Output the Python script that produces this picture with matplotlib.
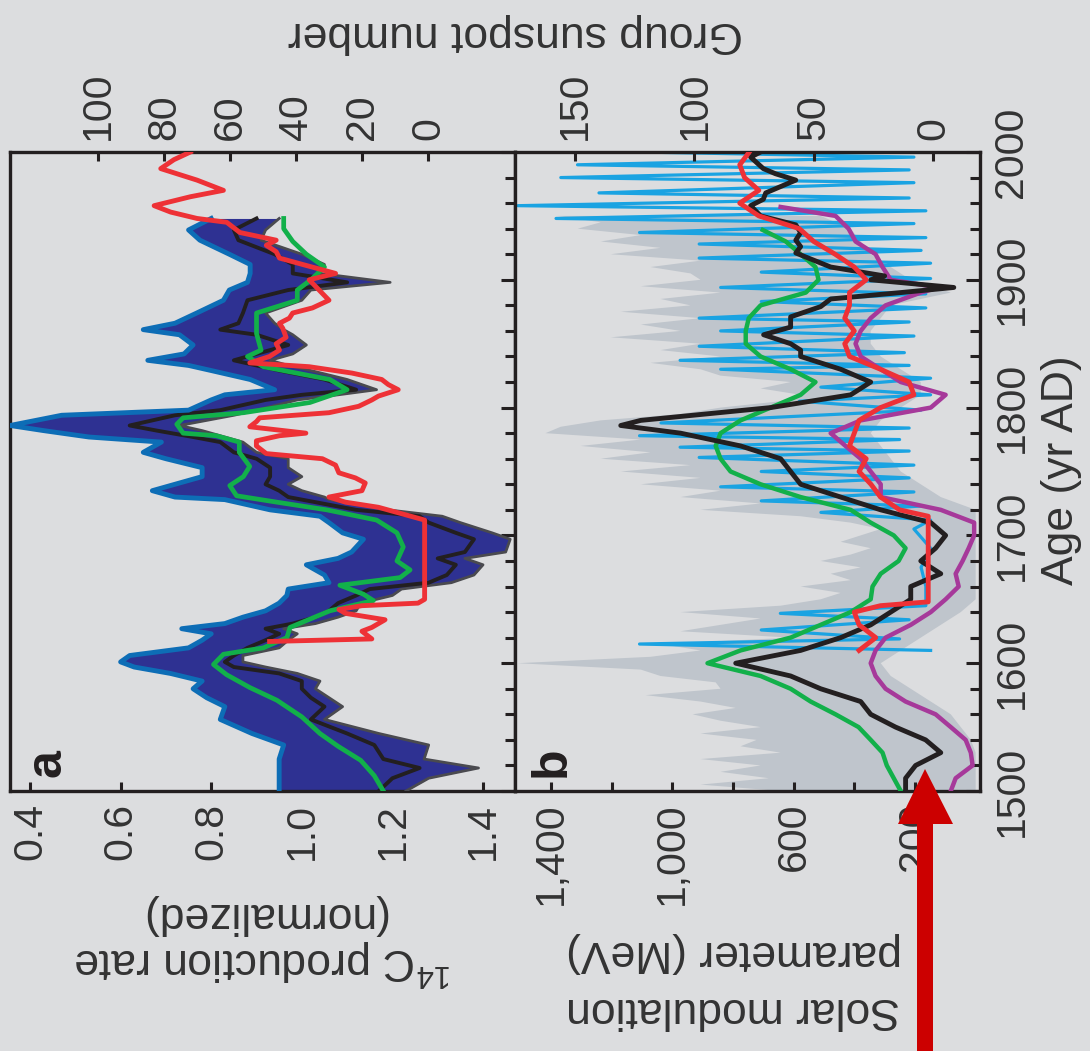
import numpy as np
import matplotlib
matplotlib.use("Agg")
import matplotlib.pyplot as plt
from matplotlib.ticker import MultipleLocator
from matplotlib.patches import Polygon

plt.rcParams['font.family'] = ['Liberation Sans', 'DejaVu Sans']
plt.rcParams['mathtext.fontset'] = 'custom'
plt.rcParams['mathtext.rm'] = 'Liberation Sans'

# ---------------- data ----------------
# panel a: 14C production rate ensemble (normalized): left edge, core, right edge
yrs_a = [1500, 1510, 1518, 1525, 1536, 1545, 1556, 1566, 1573, 1580,
         1586, 1592, 1597, 1601, 1606, 1612, 1618, 1623, 1627, 1631,
         1636, 1641, 1647, 1653, 1658, 1663, 1669, 1677, 1682, 1687,
         1697, 1702, 1710, 1715, 1720, 1728, 1730, 1735, 1740, 1746,
         1753, 1760, 1765, 1773, 1777, 1782, 1786, 1794, 1798, 1806,
         1810, 1814, 1822, 1829, 1833, 1837, 1842, 1849, 1857, 1861,
         1866, 1874, 1884, 1892, 1898, 1905, 1912, 1920, 1931, 1939, 1948]
c14_lo = [0.95, 0.95, 0.95, 0.95, 0.96, 0.89, 0.82, 0.83, 0.79, 0.76,
          0.78, 0.71, 0.63, 0.60, 0.62, 0.75, 0.78, 0.80, 0.735, 0.83,
          0.87, 0.92, 0.95, 0.967, 0.97, 1.06, 1.05, 1.01, 1.08, 1.11,
          1.136, 1.09, 1.06, 1.04, 0.93, 0.83, 0.72, 0.67, 0.72, 0.78,
          0.78, 0.70, 0.65, 0.69, 0.53, 0.43, 0.356, 0.47, 0.75, 0.80,
          0.83, 0.94, 0.886, 0.80, 0.75, 0.66, 0.74, 0.76, 0.73, 0.65,
          0.72, 0.768, 0.827, 0.84, 0.88, 0.886, 0.886, 0.84, 0.775, 0.75, 0.80]
c14_mid = [1.17, 1.20, 1.26, 1.18, 1.16, 1.10, 1.02, 1.05, 1.02, 1.00,
           1.00, 0.95, 0.85, 0.83, 0.85, 0.88, 0.92, 0.95, 0.92, 0.98,
           1.03, 1.06, 1.08, 1.12, 1.15, 1.28, 1.32, 1.34, 1.30, 1.36,
           1.38, 1.34, 1.28, 1.26, 1.12, 1.00, 0.97, 0.95, 0.92, 0.93,
           0.93, 0.90, 0.85, 0.82, 0.76, 0.68, 0.62, 0.72, 0.82, 0.92,
           1.00, 1.12, 1.05, 0.95, 0.90, 0.85, 0.90, 0.97, 0.90, 0.82,
           0.86, 0.87, 0.88, 0.97, 1.10, 0.98, 0.98, 0.94, 0.86, 0.85, 0.90]
c14_hi = [1.23, 1.28, 1.39, 1.27, 1.28, 1.17, 1.05, 1.09, 1.06, 1.03,
          1.04, 0.99, 0.92, 0.87, 0.87, 0.95, 0.97, 0.99, 0.96, 1.03,
          1.08, 1.12, 1.13, 1.20, 1.22, 1.33, 1.38, 1.40, 1.36, 1.45,
          1.46, 1.42, 1.35, 1.31, 1.19, 1.06, 1.05, 1.00, 0.97, 1.00,
          0.97, 0.97, 0.90, 0.87, 0.83, 0.78, 0.73, 0.85, 0.90, 0.99,
          1.08, 1.165, 1.10, 1.02, 0.97, 0.93, 0.98, 1.01, 0.98, 0.96,
          0.94, 0.92, 1.00, 1.02, 1.195, 1.04, 1.05, 1.00, 0.91, 0.92, 0.95]

yrs_green_a = [1500, 1512, 1524, 1535, 1545, 1558, 1571, 1581, 1591, 1599,
               1607, 1612, 1620, 1628, 1641, 1649, 1654, 1661, 1667, 1673,
               1680, 1691, 1702, 1712, 1720, 1726, 1731, 1739, 1746, 1754,
               1765, 1773, 1778, 1780, 1787, 1792, 1796, 1804, 1814, 1822,
               1832, 1840, 1845, 1858, 1874, 1884, 1892, 1900, 1910, 1920,
               1930, 1940, 1948]
green_a = [1.18, 1.16, 1.13, 1.08, 1.04, 1.00, 0.945, 0.885, 0.834, 0.805,
           0.827, 0.915, 0.967, 0.974, 1.062, 1.158, 1.136, 1.084, 1.217, 1.239,
           1.21, 1.224, 1.21, 1.165, 1.055, 0.945, 0.856, 0.841, 0.871, 0.885,
           0.862, 0.862, 0.811, 0.738, 0.724, 0.738, 0.871, 1.018, 1.10, 1.062,
           0.915, 0.88, 0.91, 0.90, 0.90, 0.99, 0.99, 1.02, 1.05, 1.01,
           0.98, 0.96, 0.96]

# panel a: group sunspot number (top axis)
yrs_red_a = [1617, 1619, 1625, 1628, 1634, 1639, 1642, 1645, 1647, 1650,
             1712, 1717, 1722, 1726, 1730, 1735, 1741, 1745, 1749, 1755,
             1760, 1764, 1770, 1774, 1778, 1780, 1785, 1789, 1792, 1796,
             1801, 1806, 1809, 1814, 1818, 1822, 1827, 1832, 1835, 1840,
             1845, 1850, 1855, 1862, 1866, 1870, 1874, 1878, 1884, 1892,
             1900, 1905, 1912, 1917, 1922, 1927, 1931, 1937, 1945, 1948,
             1953, 1958, 1965, 1970, 1978, 1987, 1994, 2000]
red_a = [48, 17, 20, 17, 13, 25, 27, 20, 3, 1,
         1, 8, 15, 25, 30, 20, 19, 22, 27, 28,
         32, 49, 52, 52, 45, 37, 54, 52, 51, 30,
         21, 17, 15, 9, 12, 14, 23, 36, 54, 48,
         45, 46, 43, 44, 45, 42, 41, 35, 30, 33,
         36, 28, 38, 45, 46, 49, 46, 57, 61, 70,
         78, 83, 72, 62, 70, 81, 77, 72]

# panel b: solar modulation parameter (MeV)
yrs_gray_hi = list(range(1500, 1955, 5))
gray_hi = [643, 907, 682, 841, 709, 907, 643, 775, 722, 907,
           709, 841, 933, 791, 907, 1088, 841, 857, 1039, 1104,
           1510, 1072, 907, 1039, 610, 973, 841, 709, 973, 643,
           511, 445, 577, 412, 478, 379, 511, 412, 346, 445,
           379, 313, 412, 577, 907, 709, 973, 841, 1104, 907,
           1170, 940, 1236, 1072, 1302, 1104, 1418, 1368, 1236, 973,
           841, 643, 577, 709, 610, 841, 907, 1072, 841, 1039,
           907, 1203, 973, 1104, 907, 1170, 940, 1039, 841, 1104,
           907, 940, 1072, 907, 1203, 1039, 1236, 1104, 1312, 1236,
           1378]
yrs_gray_lo = list(range(1500, 1960, 10))
gray_lo = [0, 0, 0, 0, 16, 49, 82, 148, 214, 280,
           313, 247, 181, 115, 49, 0, 0, 0, 0, 0,
           0, 0, 0, 115, 181, 247, 280, 313, 346, 313,
           247, 181, 181, 247, 313, 346, 346, 313, 280, 82,
           214, 280, 346, 379, 412, 511]

yrs_black_b = [1500, 1510, 1520, 1530, 1540, 1550, 1560, 1570, 1580, 1590,
               1600, 1610, 1620, 1630, 1640, 1650, 1660, 1670, 1680, 1690,
               1700, 1710, 1720, 1730, 1740, 1750, 1760, 1770, 1780, 1786,
               1790, 1800, 1810, 1820, 1830, 1840, 1845, 1850, 1857, 1863,
               1871, 1879, 1885, 1890, 1894, 1900, 1903, 1910, 1921, 1926,
               1931, 1937, 1943, 1950, 1958, 1963, 1968, 1978, 1983, 1987,
               1996, 2000]
black_b = [231, 231, 198, 115, 165, 264, 346, 379, 511, 610,
           791, 577, 445, 346, 280, 214, 214, 115, 181, 132,
           99, 148, 313, 445, 577, 610, 643, 775, 973, 1170,
           1104, 676, 412, 346, 445, 577, 577, 610, 699, 610,
           610, 511, 478, 247, 72, 346, 300, 478, 593, 577,
           593, 577, 593, 709, 742, 700, 692, 593, 660, 700,
           742, 709]

yrs_green_b = [1500, 1510, 1520, 1530, 1540, 1550, 1560, 1570, 1580, 1590,
               1600, 1610, 1620, 1630, 1640, 1650, 1660, 1670, 1680, 1690,
               1700, 1710, 1720, 1730, 1740, 1750, 1760, 1770, 1780, 1790,
               1800, 1810, 1820, 1830, 1840, 1850, 1860, 1870, 1880, 1890,
               1900, 1910, 1920, 1930, 1939]
green_b = [247, 270, 293, 307, 346, 386, 462, 544, 610, 709,
           884, 775, 610, 511, 412, 346, 340, 313, 254, 231,
           270, 346, 412, 577, 709, 808, 841, 857, 841, 775,
           676, 577, 528, 610, 709, 758, 758, 748, 709, 560,
           518, 528, 577, 626, 702]

yrs_purple_b = [1500, 1510, 1520, 1530, 1540, 1550, 1560, 1570, 1580, 1590,
                1600, 1610, 1620, 1630, 1640, 1650, 1660, 1670, 1680, 1690,
                1700, 1710, 1720, 1730, 1740, 1750, 1760, 1770, 1780, 1790,
                1800, 1810, 1820, 1830, 1840, 1850, 1860, 1870, 1880, 1890,
                1894, 1900, 1910, 1920, 1930, 1940, 1950, 1957]
purple_b = [82, 66, 10, 16, 33, 82, 132, 231, 297, 330,
            346, 330, 297, 214, 148, 99, 56, 66, 43, 23,
            5, 5, 115, 313, 313, 346, 379, 429, 478, 379,
            148, 99, 247, 313, 379, 396, 379, 346, 297, 181,
            122, 280, 307, 330, 396, 419, 462, 643]

# panel b: group sunspot number (top axis)
yrs_red_b = [1610, 1620, 1630, 1640, 1645, 1648, 1710, 1715,
             1720, 1730, 1740, 1750, 1760, 1770, 1780, 1790, 1800, 1810,
             1820, 1830, 1840, 1850, 1860, 1870, 1880, 1890, 1900, 1910,
             1920, 1930, 1940, 1950, 1960, 1970, 1980, 1990, 2000]
red_b = [31, 24, 31, 33, 22, 2, 2, 2,
         14, 22, 26, 31, 28, 35, 33, 31, 22, 8,
         10, 22, 35, 37, 33, 37, 35, 35, 28, 33,
         41, 50, 56, 73, 81, 73, 79, 81, 77]

yrs_blue_b = [1610, 1615, 1619, 1626, 1634, 1639, 1645, 1660, 1675, 1690, 1705, 1712,
              1718, 1723, 1727, 1734, 1738, 1745, 1750, 1755, 1761, 1766, 1769, 1775,
              1778, 1784, 1788, 1798, 1805, 1810, 1816, 1823, 1830, 1833, 1837, 1843,
              1848, 1856, 1860, 1867, 1870, 1878, 1883, 1889, 1894, 1901, 1906, 1913,
              1917, 1923, 1928, 1933, 1937, 1944, 1948, 1954, 1958, 1964, 1968, 1976,
              1980, 1986, 1990, 1996, 2000]
blue_b = [1, 123, 14, 72, 10, 64, 3, 3, 5, 1, 8, 1,
          47, 5, 72, 8, 89, 10, 72, 8, 98, 10, 106, 14,
          123, 10, 114, 5, 56, 1, 47, 1, 89, 10, 106, 12,
          98, 8, 89, 10, 98, 3, 72, 3, 89, 1, 72, 1,
          98, 5, 98, 3, 123, 8, 158, 3, 174, 10, 140, 8,
          156, 10, 149, 8, 123]

c14_ticks = [0.4, 0.6, 0.8, 1.0, 1.2, 1.4]
c14_labels = ['0.4', '0.6', '0.8', '1.0', '1.2', '1.4']
mev_ticks = [200, 400, 600, 800, 1000, 1200, 1400]
mev_labels = ['200', '', '600', '', '1,000', '', '1,400']
ss_ticks_a = [0, 20, 40, 60, 80, 100]
ss_ticks_b = [0, 50, 100, 150]

# ---------------- style ----------------
BG = '#dcdddf'
INK = '#231f20'
TXT = '#333333'
NAVY = '#2e3192'
BLUE = '#0d6db6'
GREEN = '#12b04a'
RED = '#ee3136'
PURPLE = '#a6399a'
SKY = '#1aa3e2'
GRAY = '#bfc5cc'
W, H = 1090, 1051
FS = 29.5

fig = plt.figure(figsize=(W / 100, H / 100), dpi=100)
fig.patch.set_facecolor(BG)


def box(x0, y0, x1, y1):
    return [x0 / W, 1 - y1 / H, (x1 - x0) / W, (y1 - y0) / H]


axA = fig.add_axes(box(10, 152, 515, 791))
axB = fig.add_axes(box(515, 152, 980, 791))
twA = axA.twiny()
twB = axB.twiny()

# panel a
axA.fill_betweenx(yrs_a, c14_lo, c14_hi, color=NAVY, lw=0, zorder=2)
axA.plot(c14_hi, yrs_a, color='#4a4a4f', lw=2, zorder=3)
axA.plot(c14_mid, yrs_a, color=INK, lw=2.8, zorder=3)
axA.plot(c14_lo, yrs_a, color=BLUE, lw=3.5, zorder=3)
axA.plot(green_a, yrs_green_a, color=GREEN, lw=3.4, zorder=4)
axA.plot(red_a, yrs_red_a, color=RED, lw=3.5, zorder=5, transform=twA.transData)

# panel b
axB.fill(np.r_[gray_hi, gray_lo[::-1]], np.r_[yrs_gray_hi, yrs_gray_lo[::-1]],
         color=GRAY, lw=0, zorder=1)
axB.plot(blue_b, yrs_blue_b, color=SKY, lw=2.3, zorder=2, transform=twB.transData)
axB.plot(purple_b, yrs_purple_b, color=PURPLE, lw=3.2, zorder=3)
axB.plot(green_b, yrs_green_b, color=GREEN, lw=3.2, zorder=3)
axB.plot(black_b, yrs_black_b, color=INK, lw=3.5, zorder=4)
axB.plot(red_b, yrs_red_b, color=RED, lw=3.5, zorder=5, transform=twB.transData)


def frame(ax, xlim, ticks, labels, right_labels):
    ax.set_facecolor(BG)
    ax.set_xlim(*xlim)
    ax.set_ylim(1500, 2000)
    ax.set_xticks(ticks)
    ax.set_xticklabels(labels)
    ax.tick_params(axis='x', direction='in', length=6.5, width=2.2, pad=8.5,
                   labelsize=FS, labelrotation=90, color=INK, labelcolor=TXT)
    ax.yaxis.tick_right()
    ax.yaxis.set_major_locator(MultipleLocator(100))
    ax.yaxis.set_minor_locator(MultipleLocator(20))
    ax.tick_params(axis='y', which='major', direction='in', length=10, width=2.2,
                   color=INK, labelright=right_labels, labelsize=FS,
                   labelrotation=90, labelcolor=TXT, pad=9)
    ax.tick_params(axis='y', which='minor', direction='in', length=7, width=2.2, color=INK)
    for s in ax.spines.values():
        s.set_linewidth(2.4)
        s.set_color(INK)


def top(tw, xlim, ticks):
    tw.set_xlim(*xlim)
    tw.set_xticks(ticks)
    tw.tick_params(axis='x', direction='in', length=6.5, width=2.2, pad=8.5,
                   labelsize=FS, labelrotation=90, color=INK, labelcolor=TXT)
    for s in tw.spines.values():
        s.set_visible(False)


frame(axA, (0.3558, 1.4706), c14_ticks, c14_labels, False)
frame(axB, (1518.6, -14.3), mev_ticks, mev_labels, True)
top(twA, (126.7, -26.4), ss_ticks_a)
top(twB, (175.2, -19.7), ss_ticks_b)
for t in axB.yaxis.get_major_ticks():
    t.label2.set_va('center')


def ftext(x, y, s, **kw):
    kw.setdefault('color', TXT)
    fig.text(x / W, 1 - y / H, s, **kw)


ftext(515, 33, 'Group sunspot number', rotation=180, ha='center', va='center', fontsize=32)
ftext(263, 915, '(normalized)', rotation=180, ha='center', va='center', fontsize=32)
ftext(263, 962, r'$^{14}$C production rate', rotation=180, ha='center', va='center', fontsize=32)
ftext(734, 953, 'parameter (MeV)', rotation=180, ha='center', va='center', fontsize=32)
ftext(733, 1010, 'Solar modulation', rotation=180, ha='center', va='center', fontsize=32)
ftext(1062, 470, 'Age (yr AD)', rotation=90, ha='center', va='center', fontsize=32)
ftext(60, 777, 'a', rotation=90, ha='left', va='baseline', rotation_mode='anchor',
      fontsize=36, fontweight='bold', color=INK)
ftext(565, 777, 'b', rotation=90, ha='left', va='baseline', rotation_mode='anchor',
      fontsize=36, fontweight='bold', color=INK)

# red arrow (pixel coordinates of the figure)
arrow_px = [(917, 1060), (917, 824), (898, 824), (925, 769), (953, 824), (933, 824), (933, 1060)]
arrow = Polygon([(x / 100, (H - y) / 100) for x, y in arrow_px], closed=True,
                transform=fig.dpi_scale_trans, facecolor='#cc0000', edgecolor='none', zorder=10)
fig.add_artist(arrow)

fig.savefig('out.png', dpi=100, facecolor=BG)
